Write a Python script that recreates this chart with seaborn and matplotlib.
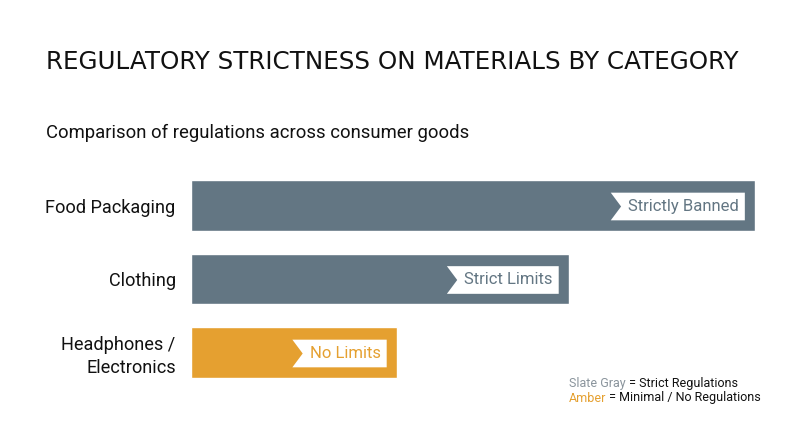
import matplotlib
matplotlib.use("Agg")
import matplotlib.pyplot as plt
import matplotlib.transforms as mtransforms
from matplotlib.path import Path
import seaborn as sns
import pandas as pd

categories = ["Food Packaging", "Clothing", "Headphones /\nElectronics"]
strictness = [100, 67, 36.5]
labels = ["Strictly Banned", "Strict Limits", "No Limits"]
groups = ["Strict", "Strict", "Minimal"]

SLATE = "#637683"
AMBER = "#E5A030"
palette = {"Strict": SLATE, "Minimal": AMBER}

df = pd.DataFrame({"category": categories, "value": strictness,
                   "label": labels, "group": groups})

sns.set_theme(style="white")
plt.rcParams["font.family"] = ["Roboto", "DejaVu Sans"]

fig = plt.figure(figsize=(8, 4.47), dpi=100)
ax = fig.add_axes([191/800, 1 - 389.25/447, (755-191)/800, (389.25-168.75)/447])

sns.barplot(data=df, y="category", x="value", hue="group", palette=palette,
            orient="h", width=0.69, dodge=False, legend=False, ax=ax,
            saturation=1)
ax.set_xlim(0, 100)
ax.set_ylim(2.5, -0.5)
ax.set_xlabel("")
ax.set_ylabel("")
ax.set_xticks([])
for s in ax.spines.values():
    s.set_visible(False)
ax.tick_params(axis="y", length=0, pad=11, labelsize=13.1, labelcolor="#111111")
for t in ax.get_yticklabels():
    t.set_ha("right")
    t.set_linespacing(1.3)


def ribbon(x0, y0, width, height, mutation_size):
    m = mutation_size
    padl, padr, padv, notch = 1.05 * m, 0.35 * m, 0.38 * m, 0.62 * m
    x0 = x0 - padl
    x1 = x0 + padl + width + padr
    y0 = y0 - padv
    y1 = y0 + height + 2 * padv
    verts = [(x0, y0), (x1, y0), (x1, y1), (x0, y1),
             (x0 + notch, (y0 + y1) / 2), (x0, y0), (x0, y0)]
    codes = [Path.MOVETO] + [Path.LINETO] * 5 + [Path.CLOSEPOLY]
    return Path(verts, codes)


offset = mtransforms.ScaledTranslation(-16/100, -1/100, fig.dpi_scale_trans)
for i, row in df.iterrows():
    col = palette[row["group"]]
    ax.text(row["value"], i, row["label"], transform=ax.transData + offset,
            ha="right", va="center", fontsize=12, color=col,
            bbox=dict(boxstyle=ribbon, facecolor="white", edgecolor="none"))

fig.text(46/800, 1 - 62/447, "REGULATORY STRICTNESS ON MATERIALS BY CATEGORY",
         fontsize=17.7, color="#111111", va="center", ha="left",
         family=["DejaVu Sans"])
fig.text(46/800, 1 - 133/447, "Comparison of regulations across consumer goods",
         fontsize=13.35, color="#111111", va="center", ha="left")

t1 = fig.text(569/800, 1 - 383/447, "Slate Gray", fontsize=9, color="#8a949c",
              va="center", ha="left")
ax.annotate(" = Strict Regulations", xy=(1, 0.5), xycoords=t1, va="center",
            ha="left", fontsize=9, color="#111111", annotation_clip=False)
t2 = fig.text(569/800, 1 - 398/447, "Amber", fontsize=9, color=AMBER,
              va="center", ha="left")
ax.annotate(" = Minimal / No Regulations", xy=(1, 0.5), xycoords=t2, va="center",
            ha="left", fontsize=9, color="#111111", annotation_clip=False)

fig.savefig("out.png", dpi=100, facecolor="white")
